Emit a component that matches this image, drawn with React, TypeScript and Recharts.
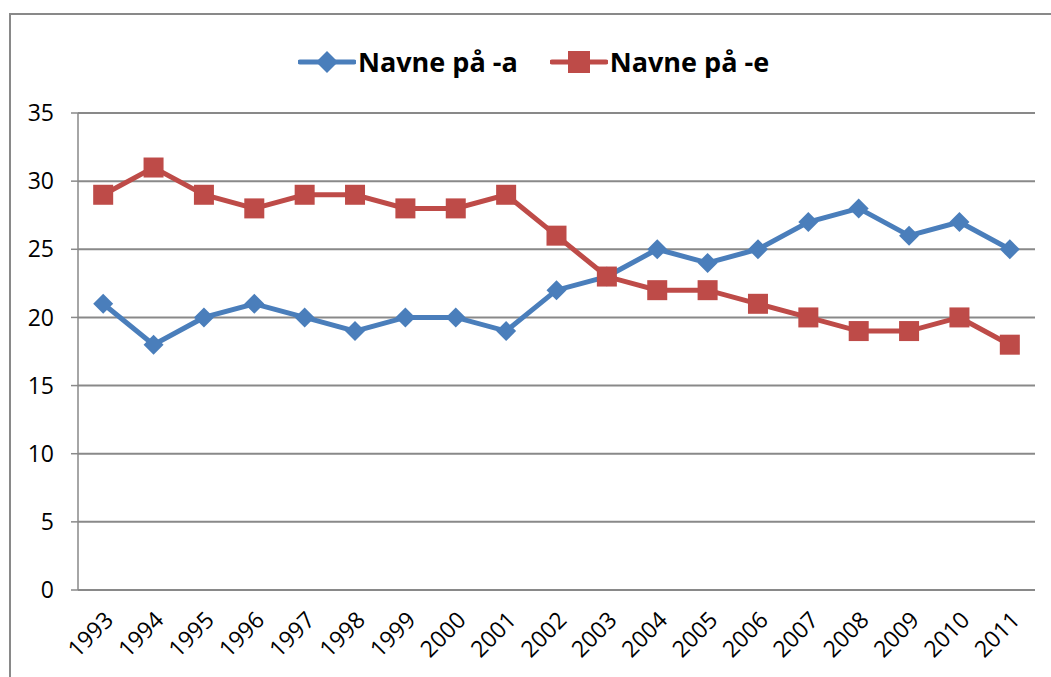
import { CartesianGrid, Line, LineChart, XAxis, YAxis } from "recharts";

const years = [
  "1993", "1994", "1995", "1996", "1997", "1998", "1999", "2000", "2001", "2002",
  "2003", "2004", "2005", "2006", "2007", "2008", "2009", "2010", "2011",
];
const navneA = [21, 18, 20, 21, 20, 19, 20, 20, 19, 22, 23, 25, 24, 25, 27, 28, 26, 27, 25];
const navneE = [29, 31, 29, 28, 29, 29, 28, 28, 29, 26, 23, 22, 22, 21, 20, 19, 19, 20, 18];
const yTicks = [0, 5, 10, 15, 20, 25, 30, 35];
const bandEdges = [...years.map((_, i) => i), years.length];

const BLUE = "#4A7EBB";
const RED = "#BE4B48";
const GRID = "#898989";
const FONT = "'Open Sans', sans-serif";

const data = years.map((year, i) => ({ year, a: navneA[i], e: navneE[i] }));

function Diamond(props: any) {
  const { cx, cy } = props;
  if (cx == null || cy == null) return null;
  const r = 10;
  return (
    <polygon
      points={`${cx},${cy - r} ${cx + r},${cy} ${cx},${cy + r} ${cx - r},${cy}`}
      fill={BLUE}
    />
  );
}

function Square(props: any) {
  const { cx, cy } = props;
  if (cx == null || cy == null) return null;
  const s = 10;
  return <rect x={cx - s} y={cy - s} width={s * 2} height={s * 2} fill={RED} />;
}

function LegendItem({ color, label, square }: { color: string; label: string; square?: boolean }) {
  return (
    <div style={{ display: "flex", alignItems: "center" }}>
      <svg width={58} height={24}>
        <line x1={2} y1={12} x2={56} y2={12} stroke={color} strokeWidth={5} strokeLinecap="round" />
        {square ? (
          <rect x={18} y={1} width={22} height={22} fill={color} />
        ) : (
          <polygon points="29,1 40,12 29,23 18,12" fill={color} />
        )}
      </svg>
      <span style={{ fontFamily: FONT, fontWeight: 700, fontSize: 27, color: "#000", marginLeft: 2 }}>
        {label}
      </span>
    </div>
  );
}

export default function App() {
  return (
    <div style={{ position: "fixed", left: 0, top: 0, width: 1051, height: 677, background: "#fff", overflow: "hidden" }}>
      <div
        style={{
          position: "absolute",
          left: 9,
          top: 13,
          width: 1100,
          height: 720,
          border: `2px solid ${GRID}`,
        }}
      />
      <div style={{ position: "absolute", left: 298, top: 43, display: "flex", gap: 32 }}>
        <LegendItem color={BLUE} label="Navne på -a" />
        <LegendItem color={RED} label="Navne på -e" square />
      </div>
      <div style={{ position: "absolute", left: 0, top: 0 }}>
        <LineChart width={1051} height={677} data={data} margin={{ top: 113, right: 16, left: 0, bottom: 0 }}>
          <CartesianGrid vertical={false} stroke={GRID} strokeWidth={2} />
          <XAxis
            xAxisId="edge"
            type="number"
            domain={[0, years.length]}
            ticks={bandEdges}
            allowDataOverflow
            tickFormatter={() => ""}
            height={0}
            stroke={GRID}
            strokeWidth={2}
            tickSize={7}
          />
          <XAxis
            xAxisId="cat"
            dataKey="year"
            type="category"
            scale="band"
            interval={0}
            axisLine={false}
            tickLine={false}
            angle={-45}
            textAnchor="end"
            height={87}
            tickMargin={14}
            tick={{ fontFamily: FONT, fontSize: 23, fill: "#000" }}
          />
          <YAxis
            domain={[0, 35]}
            ticks={yTicks}
            width={78}
            stroke={GRID}
            strokeWidth={1.5}
            tickSize={7}
            tickMargin={17}
            tick={{ fontFamily: FONT, fontSize: 23, fill: "#000" }}
          />
          <Line
            xAxisId="cat"
            dataKey="a"
            stroke={BLUE}
            strokeWidth={5}
            dot={<Diamond />}
            activeDot={false}
            isAnimationActive={false}
          />
          <Line
            xAxisId="cat"
            dataKey="e"
            stroke={RED}
            strokeWidth={5}
            dot={<Square />}
            activeDot={false}
            isAnimationActive={false}
          />
        </LineChart>
      </div>
    </div>
  );
}
